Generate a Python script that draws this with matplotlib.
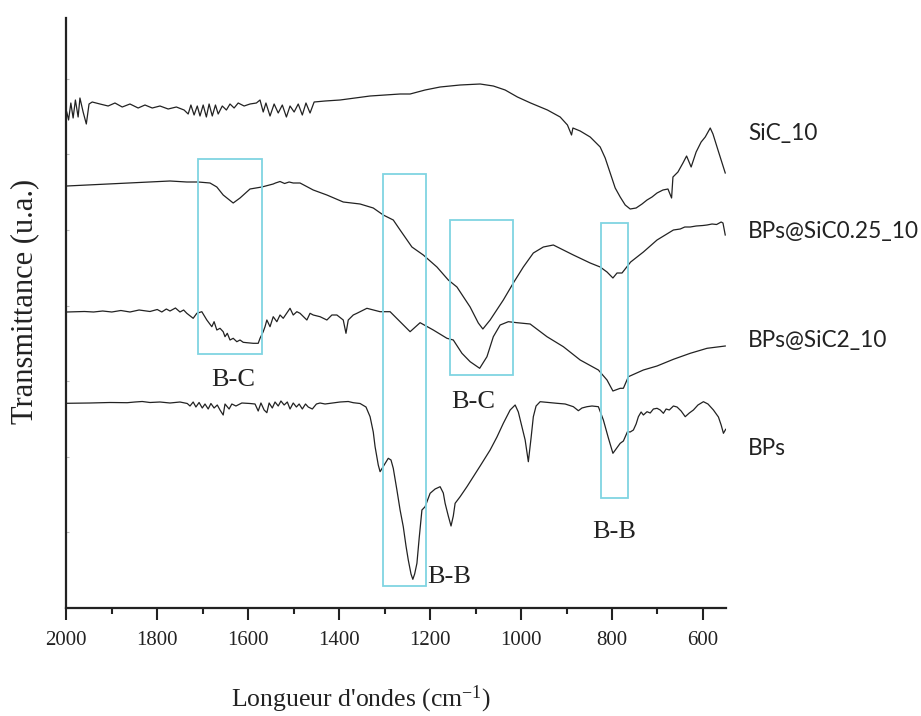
import matplotlib
matplotlib.use("Agg")
import matplotlib.pyplot as plt
from matplotlib.patches import Rectangle
from matplotlib.ticker import MultipleLocator

plt.rcParams["mathtext.fontset"] = "custom"
plt.rcParams["mathtext.rm"] = "Liberation Serif"
plt.rcParams["mathtext.default"] = "regular"

# FTIR spectra (wavenumber cm^-1, transmittance in arbitrary units, offset per sample)
SIC_10 = [
    (1999, 496), (1995, 488), (1990, 505), (1985, 490), (1980, 508), (1974, 491),
    (1970, 510), (1963, 496), (1956, 484), (1950, 504), (1943, 506), (1926, 504),
    (1908, 502), (1893, 505), (1877, 501), (1860, 504), (1842, 500), (1827, 503),
    (1811, 500), (1794, 502), (1776, 499), (1758, 501), (1741, 498), (1732, 494),
    (1726, 503), (1719, 493), (1712, 502), (1706, 492), (1699, 503), (1692, 491),
    (1686, 504), (1679, 492), (1672, 503), (1666, 494), (1657, 502), (1648, 498),
    (1640, 504), (1631, 500), (1622, 505), (1609, 502), (1596, 504), (1582, 505),
    (1574, 508), (1567, 496), (1561, 505), (1552, 492), (1543, 504), (1534, 495),
    (1525, 503), (1516, 491), (1508, 502), (1499, 496), (1490, 504), (1481, 493),
    (1473, 505), (1464, 495), (1455, 506), (1431, 507), (1398, 508), (1365, 510),
    (1332, 512), (1299, 513), (1266, 514), (1244, 514), (1211, 518), (1178, 521),
    (1134, 523), (1090, 524), (1061, 522), (1035, 518), (1008, 511), (979, 505),
    (942, 498), (914, 491), (898, 483), (889, 473), (886, 480), (870, 477),
    (848, 471), (826, 461), (815, 450), (804, 435), (793, 420), (782, 411),
    (771, 403), (760, 399), (747, 400), (734, 404), (723, 408), (712, 411),
    (701, 415), (688, 418), (677, 419), (669, 410), (666, 431), (655, 436),
    (644, 445), (636, 452), (626, 441), (615, 456), (604, 466), (595, 471),
    (584, 480), (578, 474), (567, 458), (551, 435),
]

BPS_SIC025_10 = [
    (1999, 422), (1772, 427), (1735, 426), (1710, 426), (1684, 425), (1669, 421),
    (1655, 413), (1633, 405), (1618, 410), (1596, 419), (1570, 421), (1545, 424),
    (1540, 425), (1530, 426.5), (1520, 424.5), (1510, 426), (1501, 425), (1486, 425),
    (1457, 418), (1427, 413), (1391, 406), (1354, 404), (1325, 400), (1303, 393),
    (1281, 388), (1266, 378), (1240, 361), (1215, 353), (1185, 341), (1160, 328),
    (1141, 321), (1112, 301), (1094, 285), (1084, 279), (1068, 288), (1039, 308),
    (1017, 325), (995, 341), (973, 355), (951, 361), (929, 363), (907, 358),
    (885, 353), (848, 345), (826, 341), (811, 336), (798, 330), (789, 335),
    (778, 335), (759, 346), (731, 356), (701, 368), (665, 378), (650, 379),
    (640, 381), (628, 381), (615, 382), (600, 382.5), (591, 383), (580, 384),
    (570, 383.5), (560, 386), (556, 385), (551, 373),
]

BPS_SIC2_10 = [
    (1999, 296), (1960, 296.5), (1940, 296), (1920, 297), (1900, 296), (1880, 297.5),
    (1860, 296), (1840, 298), (1816, 296.5), (1800, 298.5), (1790, 296), (1780, 299),
    (1772, 297), (1760, 300), (1750, 296), (1742, 298), (1735, 294.7), (1721, 289.7),
    (1713, 294.7), (1702, 296.3), (1691, 288), (1680, 281.3), (1675, 286.3), (1669, 278),
    (1662, 279.7), (1655, 276.3), (1651, 271.3), (1646, 274.7), (1640, 268), (1633, 269.7),
    (1625, 266.3), (1618, 268), (1611, 265.7), (1603, 265.3), (1589, 264.7), (1578, 264.7),
    (1574, 269.7), (1567, 276.3), (1563, 281.3), (1559, 288), (1552, 281.3), (1545, 291.3),
    (1537, 286.3), (1530, 293), (1523, 289.7), (1508, 299.7), (1501, 293), (1493, 296.3),
    (1486, 294.7), (1471, 288), (1464, 294.7), (1457, 293), (1442, 291.3), (1427, 288),
    (1416, 293), (1405, 293), (1391, 288), (1385, 274.7), (1380, 288), (1369, 293),
    (1361, 294.7), (1339, 299.7), (1310, 296.3), (1288, 296.3), (1266, 286.3), (1244, 276.3),
    (1222, 285.3), (1193, 278), (1163, 269.7), (1149, 268), (1130, 254.7), (1112, 246.3),
    (1091, 239.7), (1075, 251.3), (1061, 271.3), (1046, 283), (1028, 286.3), (1009, 285.3),
    (980, 284), (943, 271.3), (907, 261.3), (870, 248), (830, 238), (811, 228),
    (798, 217), (782, 219.7), (775, 219.7), (764, 231.3), (731, 238), (701, 242),
    (665, 248.7), (628, 254.7), (591, 259.7), (551, 262),
]

BPS = [
    (1999, 204.7), (1948, 205), (1904, 205.5), (1866, 205.3), (1849, 206), (1833, 206.5),
    (1816, 205.5), (1794, 206), (1772, 205), (1750, 206), (1734, 204.5), (1728, 202),
    (1721, 206), (1715, 201), (1708, 205.5), (1701, 200), (1695, 204), (1688, 199),
    (1682, 204.5), (1675, 200), (1668, 203), (1662, 198), (1655, 193), (1651, 204),
    (1642, 199), (1636, 204), (1627, 202), (1614, 205), (1596, 204.5), (1585, 204),
    (1578, 197), (1572, 205), (1565, 198), (1559, 195.3), (1554, 205), (1547, 200),
    (1541, 206), (1534, 202), (1528, 207), (1521, 203), (1514, 206), (1508, 199),
    (1501, 205), (1494, 201), (1488, 204), (1481, 199), (1474, 204), (1468, 201),
    (1459, 199), (1450, 204), (1442, 205), (1431, 204), (1415, 205), (1398, 206),
    (1380, 206.5), (1369, 205.3), (1354, 204.5), (1341, 201), (1332, 191.3), (1325, 176),
    (1321, 161.3), (1314, 143), (1310, 136.3), (1301, 143), (1292, 149.7), (1286, 148),
    (1281, 139.7), (1273, 118), (1266, 98), (1259, 81.3), (1253, 62), (1248, 48),
    (1242, 34), (1238, 28.7), (1234, 34), (1229, 44.7), (1224, 70), (1218, 98),
    (1211, 101.3), (1200, 114.7), (1189, 119), (1178, 121.3), (1171, 115), (1167, 104.7),
    (1160, 92), (1154, 82), (1149, 92), (1145, 104.7), (1134, 111.3), (1119, 121.3),
    (1105, 131.3), (1090, 142), (1068, 158), (1053, 171), (1039, 184.7), (1024, 198),
    (1013, 203), (1006, 196), (998, 181.3), (991, 168), (984, 146.3), (978, 170),
    (973, 191.3), (967, 202), (958, 206.3), (940, 205.5), (921, 204.7), (903, 204),
    (885, 201.3), (874, 197.3), (866, 200), (855, 201.3), (844, 202), (830, 201.3),
    (819, 188), (808, 170), (798, 154.7), (791, 159), (782, 164.7), (775, 167),
    (766, 176.3), (760, 176), (753, 178), (747, 184), (742, 191.3), (736, 196),
    (731, 193), (723, 196.3), (716, 195), (709, 199), (701, 199.7), (694, 198),
    (687, 194.7), (681, 199), (674, 198), (665, 202), (657, 201), (648, 197),
    (639, 191.3), (630, 195), (621, 198), (611, 203), (599, 206.3), (589, 204),
    (577, 198), (566, 191), (560, 183), (555, 174.7), (550, 178.7),
]

SERIES_NAMES = ["SiC_10", "BPs@SiC0.25_10", "BPs@SiC2_10", "BPs"]
SERIES_DATA = [SIC_10, BPS_SIC025_10, BPS_SIC2_10, BPS]
NAME_Y = [0.8142, 0.6764, 0.5251, 0.3739]  # figure fraction of the name labels

# highlighted bands: (wn_high, wn_low, t_low, t_high)
BANDS = [
    (1710, 1570, 254, 448.7),
    (1304, 1210, 22, 433.7),
    (1156, 1017, 233, 388),
    (825, 764, 109.7, 384.7),
]
BAND_LABELS = [
    ("B-C", 1633, 228),
    ("B-C", 1105, 206),
    ("B-B", 1159, 31),
    ("B-B", 795, 76),
]

XTICKS = [2000, 1800, 1600, 1400, 1200, 1000, 800, 600]

serif = "Liberation Serif"
ink = "#222222"
cyan = "#80d4e2"

fig = plt.figure(figsize=(9.21, 7.16), dpi=100)
ax = fig.add_axes([66.3 / 921, 108 / 716, (725.7 - 66.3) / 921, 590 / 716])

for data in SERIES_DATA:
    wn = [p[0] for p in data]
    tr = [p[1] for p in data]
    ax.plot(wn, tr, color=ink, lw=0.9, solid_joinstyle="round")

for (w_hi, w_lo, t_lo, t_hi) in BANDS:
    ax.add_patch(Rectangle((w_lo, t_lo), w_hi - w_lo, t_hi - t_lo,
                           fill=False, edgecolor=cyan, lw=1.3, zorder=3))

for text, w, t in BAND_LABELS:
    ax.text(w, t, text, ha="center", va="center", fontsize=19,
            family=serif, color=ink)

ax.set_xlim(2000, 550)
ax.set_ylim(0, 590)

ax.spines["top"].set_visible(False)
ax.spines["right"].set_visible(False)
for side in ("left", "bottom"):
    ax.spines[side].set_linewidth(1.6)
    ax.spines[side].set_color(ink)

ax.set_xticks(XTICKS)
ax.set_xticklabels([str(v) for v in XTICKS], family=serif, fontsize=15, color=ink)
ax.xaxis.set_minor_locator(MultipleLocator(100))
ax.tick_params(axis="x", which="major", direction="out", length=8.6, width=1.5,
               pad=8, color=ink)
ax.tick_params(axis="x", which="minor", direction="out", length=4.3, width=1.5,
               color=ink)

ax.yaxis.set_major_locator(MultipleLocator(75.6))
ax.tick_params(axis="y", which="major", direction="in", length=2.5, width=0.8,
               color="#bbbbbb", labelleft=False)

fig.text(361 / 921, 1 - 706 / 716, "Longueur d'ondes (cm$^{-1}$)", ha="center",
         va="baseline", fontsize=18.5, family=serif, color=ink)
fig.text(25 / 921, 1 - 301 / 716, "Transmittance (u.a.)", rotation=90,
         ha="center", va="center", fontsize=22, family=serif, color=ink)

for name, yf in zip(SERIES_NAMES, NAME_Y):
    fig.text(748 / 921, yf, name, ha="left", va="center", fontsize=16.3,
             family="Lato", color=ink)

fig.savefig("out.png", dpi=100)
